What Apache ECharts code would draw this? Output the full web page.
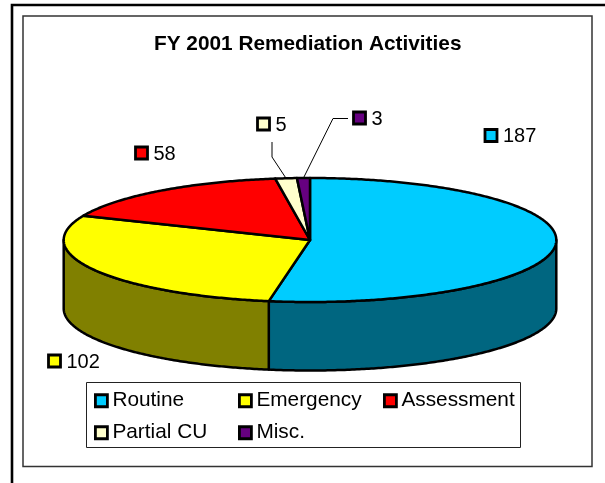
<!DOCTYPE html>
<html>
<head>
<meta charset="utf-8">
<style>html,body{margin:0;padding:0;background:#fff}#c{width:605px;height:483px}</style>
<script src="https://cdn.jsdelivr.net/npm/echarts@6/dist/echarts.min.js"></script>
</head>
<body>
<div id="c"></div>
<script>
const titleText = 'FY 2001 Remediation Activities';
const categories = ['Routine', 'Emergency', 'Assessment', 'Partial CU', 'Misc.'];
const values = [187, 102, 58, 5, 3];
const topColors = ['#00CCFF', '#FFFF00', '#FF0000', '#FFFFCC', '#660080'];
const wallColors = ['#006680', '#808000', '#800000', '#808066', '#330040'];

// Layout of the tilted pie (not data)
const CX = 310, CY = 240, RX = 246.3, RY = 62, DEPTH = 68.5;
const FONT = '"Liberation Sans", Arial, sans-serif';
// Hand-placed label anchors of the original: swatch left, vertical centre
const labelAnchor = [[484, 135.5], [47.5, 361], [134.5, 153], [256.5, 124], [352.5, 118]];
const leaderBends = [null, null, null, [[272, 142], [272, 157]], [[348, 118.5], [333, 118.5]]];

const total = values.reduce((a, b) => a + b, 0);
const pt = (t, dy) => [CX + RX * Math.sin(t), CY - RY * Math.cos(t) + (dy || 0)];

function arc(t0, t1, dy) {
  const n = Math.max(2, Math.ceil(Math.abs(t1 - t0) / 0.01));
  const out = [];
  for (let k = 0; k <= n; k++) out.push(pt(t0 + (t1 - t0) * k / n, dy));
  return out;
}

function renderSlice(i, api) {
  const before = values.slice(0, i).reduce((a, b) => a + b, 0);
  const v = api.value(0);
  const t0 = before / total * 2 * Math.PI;
  const t1 = (before + v) / total * 2 * Math.PI;
  const line = { stroke: '#000', lineWidth: 2.5, lineJoin: 'round' };
  const children = [];
  // visible wall: the front half of the ellipse
  const a = Math.max(t0, Math.PI / 2), b = Math.min(t1, 3 * Math.PI / 2);
  if (b > a) {
    const top = arc(a, b, 0), bottom = arc(b, a, DEPTH);
    children.push({ type: 'polygon', shape: { points: top.concat(bottom) },
      style: Object.assign({ fill: wallColors[i] }, line) });
  }
  children.push({ type: 'polygon', shape: { points: [[CX, CY]].concat(arc(t0, t1, 0)) },
    style: Object.assign({ fill: topColors[i] }, line) });
  // data label
  const [lx, ly] = labelAnchor[i];
  children.push({ type: 'rect', shape: { x: lx + 1, y: ly - 6, width: 12, height: 12 },
    style: { fill: topColors[i], stroke: '#000', lineWidth: 2.8 } });
  children.push({ type: 'text', style: { text: String(v), x: lx + 19, y: ly + 1, fill: '#000',
    font: '20px ' + FONT, textAlign: 'left', textVerticalAlign: 'middle', verticalAlign: 'middle' } });
  if (leaderBends[i]) {
    const mid = pt((t0 + t1) / 2, 0);
    children.push({ type: 'polyline', shape: { points: leaderBends[i].concat([mid]) },
      style: { stroke: '#000', lineWidth: 1, fill: null } });
  }
  return { type: 'group', children };
}

const legendBase = {
  orient: 'vertical', selectedMode: false, itemWidth: 12, itemHeight: 12, itemGap: 7.5, padding: 0,
  icon: 'rect',
  itemStyle: { borderColor: '#000', borderWidth: 2.8 },
  textStyle: { fontFamily: FONT, fontSize: 20.8, color: '#000', padding: [2, 0, 0, 0], lineHeight: 22.5 }
};

const chart = echarts.init(document.getElementById('c'), null, { renderer: 'canvas' });
chart.setOption({
  animation: false,
  backgroundColor: '#fff',
  title: { text: titleText, left: 154, top: 34, padding: 0,
    textStyle: { fontFamily: FONT, fontSize: 20.8, fontWeight: 'bold', color: '#000' } },
  legend: [
    Object.assign({}, legendBase, { data: [categories[0], categories[3]], left: 94, top: 388.5 }),
    Object.assign({}, legendBase, { data: [categories[1], categories[4]], left: 238, top: 388.5 }),
    Object.assign({}, legendBase, { data: [categories[2]], left: 383, top: 388.5 })
  ],
  graphic: [
    { type: 'polyline', z: -10, shape: { points: [[12, 483], [12, 5], [605, 5]] },
      style: { stroke: '#000', lineWidth: 2.6, fill: null } },
    { type: 'rect', z: -10, shape: { x: 23, y: 16, width: 569, height: 450.5 },
      style: { fill: '#fff', stroke: '#333', lineWidth: 1.5 } },
    { type: 'rect', z: -9, shape: { x: 86.5, y: 382.5, width: 434, height: 65 },
      style: { fill: '#fff', stroke: '#222', lineWidth: 1 } }
  ],
  series: categories.map((name, i) => ({
    type: 'custom', name, coordinateSystem: 'none', silent: true,
    itemStyle: { color: topColors[i] }, z: 2,
    data: [values[i]],
    renderItem: (params, api) => renderSlice(i, api)
  }))
});
</script>
</body>
</html>
